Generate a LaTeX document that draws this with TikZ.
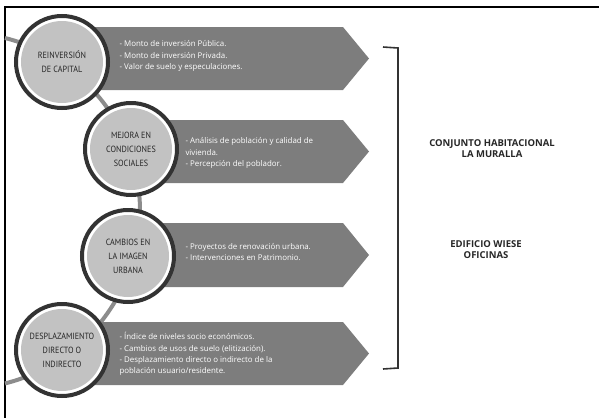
\documentclass[tikz,border=0pt]{standalone}
\usepackage{fontspec}
\setmainfont{PT Sans}
\newfontfamily\widefont{Open Sans}
\newfontfamily\circfont{PT Sans}[FakeStretch=0.9]
\usetikzlibrary{positioning}
\definecolor{ringdark}{HTML}{333333}
\definecolor{discgray}{HTML}{C2C2C2}
\definecolor{bannergray}{HTML}{7D7D7D}
\definecolor{spinegray}{HTML}{8C8C8C}
\tikzset{
  factor/.style={circle, draw=ringdark, line width=4pt, fill=white, minimum size=92pt,
    inner sep=0pt, align=center, text=black!85, font=\circfont\fontsize{9}{14}\selectfont,
    path picture={\fill[discgray] (path picture bounding box.center) circle[radius=41pt];}},
  banner/.style={fill=bannergray},
  bannertext/.style={anchor=west, align=left, text=white, font=\widefont\fontsize{7.9}{11.2}\selectfont},
  site/.style={align=center, text=black!85, font=\widefont\bfseries\fontsize{9.5}{11.5}\selectfont},
  spine/.style={draw=spinegray, line width=4pt},
  bracket/.style={draw=ringdark, line width=1.6pt},
}
\begin{document}
\begin{tikzpicture}[x=1pt,y=-1pt]
        \useasboundingbox (0,0) rectangle (599,418);
        % frame
        \draw[line width=1.2pt] (599,7) -- (5,7) -- (5,418);

        % spine through the circles
        \coordinate (spinetop) at (5,38);
        \draw[spine] (spinetop) arc[start angle=76, end angle=-76, radius=178pt];

        % banners
        \fill[banner] (62,27) -- (343,27) -- (369,58.5) -- (343,90) -- (62,90) -- cycle;
        \fill[banner] (131,120) -- (343,120) -- (369,151.5) -- (343,183) -- (131,183) -- cycle;
        \fill[banner] (128,223) -- (343,223) -- (369,255) -- (343,287) -- (128,287) -- cycle;
        \fill[banner] (62,322) -- (343,322) -- (369,353.5) -- (343,385) -- (62,385) -- cycle;

        % Nodes
        \node[factor] (capital) at (62,62) {REINVERSIÓN\\DE CAPITAL};
        \node[factor] (social) at (131,149) {MEJORA EN\\CONDICIONES\\SOCIALES};
        \node[factor] (imagen) at (128,256) {CAMBIOS EN\\LA IMAGEN\\URBANA};
        \node[factor] (despl) at (62,350) {DESPLAZAMIENTO\\DIRECTO O\\INDIRECTO};

        \node[bannertext] (capitaltxt) at (116,56) {- Monto de inversión Pública.\\- Monto de inversión Privada.\\- Valor de suelo y especulaciones.};
        \node[bannertext] (socialtxt) at (182,153) {- Análisis de población y calidad de\\vivienda.\\- Percepción del poblador.};
        \node[bannertext] (imagentxt) at (182,252) {- Proyectos de renovación urbana.\\- Intervenciones en Patrimonio.};
        \node[bannertext] (despltxt) at (116,354) {- Índice de niveles socio económicos.\\- Cambios de usos de suelo (elitización).\\- Desplazamiento directo o indirecto de la\\población usuario/residente.};

        % bracket and sites
        \coordinate (brtop) at (383,47);
        \coordinate (brbot) at (383,369);
        \draw[bracket] (brtop) -- (398,48) -- (398,368) -- (brbot);
        \node[site] (muralla) at (492,148.5) {CONJUNTO HABITACIONAL\\LA MURALLA};
        \node[site] (wiese) at (486,249.5) {EDIFICIO WIESE\\OFICINAS};
    \end{tikzpicture}
\end{document}
